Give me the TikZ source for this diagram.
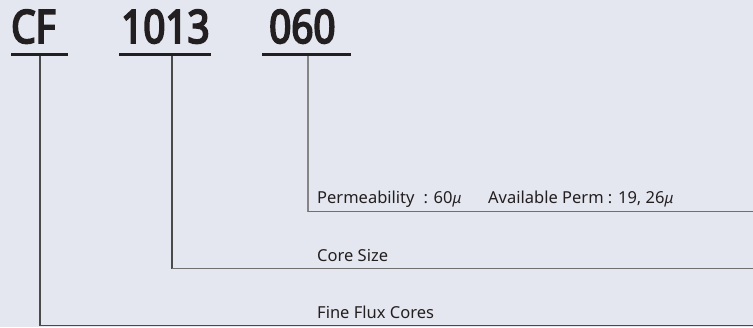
\documentclass[tikz,border=0pt]{standalone}
\usepackage{fontspec}
\setmainfont{Noto Sans}
\newfontfamily\codefont[FakeStretch=0.84,FakeBold=4]{Noto Sans}
\definecolor{bgc}{HTML}{E4E7F0}
\definecolor{txt}{HTML}{231F20}
\definecolor{lndark}{HTML}{4A4A4A}
\definecolor{lnmid}{HTML}{707070}
\definecolor{lnlight}{HTML}{858585}
\newcommand{\mysmallmu}{{\itshape\fontsize{15}{16}\selectfont μ}}
\begin{document}
\begin{tikzpicture}[x=1pt,y=-1pt,
  code/.style={anchor=base west,inner sep=0pt,text=txt,font=\codefont\fontsize{46}{46}\selectfont},
  bar/.style={rectangle,fill=txt,inner sep=0pt,minimum height=2.6pt},
  lbl/.style={anchor=base west,inner sep=0pt,text=txt,font=\fontsize{16.5}{18}\selectfont},
  lead/.style={line width=1.3pt}]
\fill[bgc] (0,0) rectangle (753,327);
\useasboundingbox (0,0) rectangle (753,327);
% codes
\node[code] (cf) at (11,43) {CF};
\node[code] (n1013) at (121,43) {1013};
\node[code] (n060) at (269,43) {060};
% underlines
\node[bar,minimum width=57pt] (ucf) at (39.5,54.6) {};
\node[bar,minimum width=92pt] (u1013) at (165,54.6) {};
\node[bar,minimum width=89pt] (u060) at (306.5,54.6) {};
% corners and ends
\coordinate (ccf) at (40,325.5);
\coordinate (ecf) at (753,325.5);
\coordinate (c1013) at (172,268.8);
\coordinate (e1013) at (753,268.8);
\coordinate (c060) at (308,211.8);
\coordinate (e060) at (753,211.8);
% labels
\node[lbl] (perm) at (317,203) {Permeability\hspace{9pt}: 60\mysmallmu};
\node[lbl] (avail) at (488,203) {Available Perm : 19, 26\mysmallmu};
\node[lbl] (size) at (317,261) {Core Size};
\node[lbl] (flux) at (317,318) {Fine Flux Cores};
% leaders
\draw[lead,lndark] (ucf.south -| ccf) -- (ccf);
\draw[lead,lndark] (ccf) -- (ecf);
\draw[lead,lndark] (u1013.south -| c1013) -- (c1013);
\draw[lead,lnmid] (c1013) -- (e1013);
\draw[lead,lnlight] (u060.south -| c060) -- (c060);
\draw[lead,lnmid] (c060) -- (e060);
\end{tikzpicture}
\end{document}
